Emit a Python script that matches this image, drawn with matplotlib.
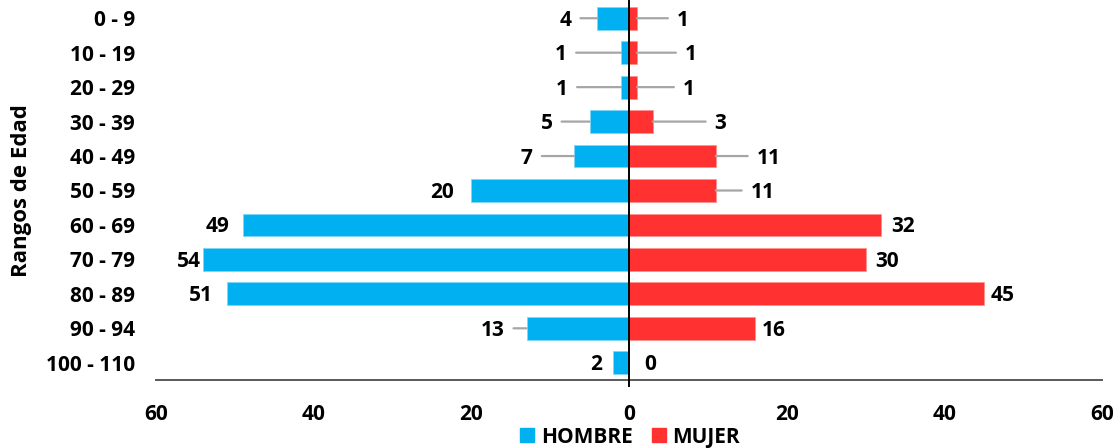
import numpy as np
import matplotlib.pyplot as plt
from matplotlib.lines import Line2D

plt.rcParams['font.family'] = ['Open Sans', 'DejaVu Sans']
plt.rcParams['font.weight'] = 'bold'

# datos
rangos = ["0 - 9", "10 - 19", "20 - 29", "30 - 39", "40 - 49", "50 - 59",
          "60 - 69", "70 - 79", "80 - 89", "90 - 94", "100 - 110"]
hombre = [4, 1, 1, 5, 7, 20, 49, 54, 51, 13, 2]
mujer = [1, 1, 1, 3, 11, 11, 32, 30, 45, 16, 0]

# desplazamiento de etiquetas (pixeles desde el extremo de la barra)
off_h = [-26, -54, -53, -37, -41, -17, -13, -2, -14, -22, -11]
off_m = [40, 48, 46, 62, 41, 35, 10, 10, 7, 7, 15]

azul = "#00B0F0"
rojo = "#FF3131"
gris = "#A6A6A6"

fig = plt.figure(figsize=(11.18, 4.48), dpi=100)
ax = fig.add_axes([156 / 1118, 1 - 380 / 448, 946 / 1118, 379 / 448])

y = np.arange(len(rangos))
ax.barh(y, -np.array(hombre), height=0.66, color=azul, edgecolor="#7FD7F7", linewidth=0.6)
ax.barh(y, mujer, height=0.66, color=rojo, edgecolor="#FF9090", linewidth=0.6)

ax.set_xlim(-60, 60)
ax.set_ylim(len(rangos) - 0.5, -0.5)

# eje vertical en 0
ax.plot([0, 0], [-0.5, len(rangos) - 0.5 + 0.18], color="black", lw=1.4, clip_on=False, zorder=5)


def etiqueta(valor, xpos, yi, off, ha):
    # linea guia (solo si la etiqueta esta lejos de la barra)
    if abs(off) > 20:
        fin = off + 9 if off < 0 else off - 9
        ax.annotate("", xy=(xpos, yi), xytext=(fin, 0), textcoords="offset pixels",
                    arrowprops=dict(arrowstyle="-", color=gris, lw=1.6, shrinkA=0, shrinkB=0),
                    annotation_clip=False)
    ax.annotate(str(valor), xy=(xpos, yi), xytext=(off, -2), textcoords="offset pixels",
                ha=ha, va="center", fontsize=15, fontweight="bold", color="black",
                annotation_clip=False)


for i in range(len(rangos)):
    etiqueta(hombre[i], -hombre[i], y[i], off_h[i], "right")
    etiqueta(mujer[i], mujer[i], y[i], off_m[i], "left")

ax.set_yticks(y)
ax.set_yticklabels(rangos, fontsize=15, fontweight="bold")
ax.set_xticks(np.arange(-60, 61, 20))
ax.set_xticklabels([str(abs(v)) for v in range(-60, 61, 20)], fontsize=15, fontweight="bold")
ax.tick_params(axis="y", length=0, pad=15)
ax.tick_params(axis="x", length=0, pad=17)
ax.set_ylabel("Rangos de Edad", fontsize=16, fontweight="bold", labelpad=10)

for s in ["top", "right", "left"]:
    ax.spines[s].set_visible(False)
ax.spines["bottom"].set_color("#595959")
ax.spines["bottom"].set_linewidth(1.4)

handles = [Line2D([], [], marker="s", color=azul, lw=0, markersize=10),
           Line2D([], [], marker="s", color=rojo, lw=0, markersize=10)]
fig.legend(handles, ["HOMBRE", "MUJER"], loc="center", bbox_to_anchor=(630 / 1118, 1 - 437 / 448),
           ncol=2, frameon=False, fontsize=15, handlelength=0.7, handletextpad=0.3,
           columnspacing=0.9, borderaxespad=0, borderpad=0)

fig.savefig("out.png", dpi=100)
